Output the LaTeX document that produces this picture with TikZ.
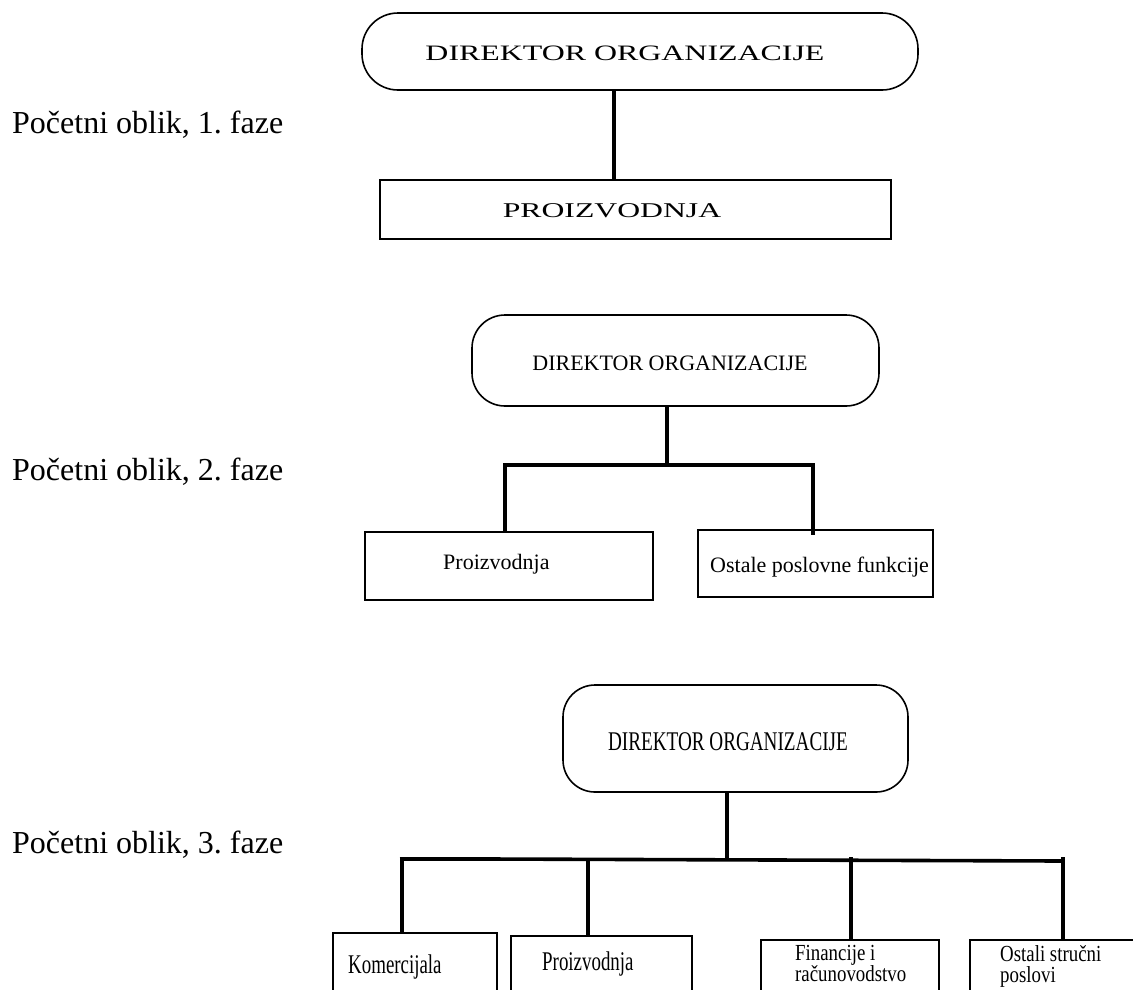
\documentclass[tikz,border=0pt]{standalone}
\usepackage{fontspec}
\setmainfont{Liberation Serif}
\usepackage{graphicx}
\frenchspacing
\begin{document}
\begin{tikzpicture}[x=1pt,y=-1pt,
  shapebox/.style={draw, line width=1.6pt, inner sep=0pt, outer sep=0pt, anchor=north west},
  pill/.style={shapebox, rounded corners=#1},
  conn/.style={draw, line width=3.6pt},
  lab/.style={inner sep=0pt, font=\fontsize{32}{38}\selectfont\frenchspacing, anchor=base west},
  txt/.style={inner sep=0pt, font=\fontsize{#1}{#1}\selectfont},
  txt/.default=22]
\useasboundingbox (0,0) rectangle (1133,989);
\clip (0,0) rectangle (1133,989);

% side labels
\node[lab] (l1) at (12,133) {Početni oblik, 1. faze};
\node[lab] (l2) at (12,480) {Početni oblik, 2. faze};
\node[lab] (l3) at (12,853) {Početni oblik, 3. faze};

% ---------- phase 1
\node[pill=36pt, minimum width=556pt, minimum height=77pt] (r1) at (362,13) {};
\node[txt, anchor=base] (r1t) at (625,60) {\scalebox{1.45}[1]{DIREKTOR ORGANIZACIJE}};
\node[shapebox, minimum width=511pt, minimum height=59pt] (p1) at (380,180) {};
\node[txt=21, anchor=base] (p1t) at (612,217) {\scalebox{1.51}[1]{PROIZVODNJA}};
\coordinate (j1) at (614,0);
\draw[conn] (r1.south -| j1) -- (p1.north -| j1);

% ---------- phase 2
\node[pill=33pt, minimum width=407pt, minimum height=91pt] (r2) at (472,315) {};
\node[txt, anchor=base] (r2t) at (670,370) {DIREKTOR ORGANIZACIJE};
\node[shapebox, minimum width=288pt, minimum height=68pt] (a2) at (365,532) {};
\node[txt, anchor=base west] (a2t) at (443,569) {Proizvodnja};
\node[shapebox, minimum width=235pt, minimum height=67pt] (b2) at (698,530) {};
\node[txt, anchor=base west] (b2t) at (710,572) {Ostale poslovne funkcije};
\coordinate (m2) at (667,465);
\coordinate (bl2) at (505,465);
\coordinate (br2) at (813,465);
\draw[conn] (r2.south -| m2) -- (m2);
\draw[conn] (bl2) -- (br2);
\draw[conn] ([yshift=1.8pt]bl2) -- (bl2 |- a2.north);
\draw[conn] ([yshift=2pt]br2) -- ([yshift=-5pt]br2 |- b2.north);

% ---------- phase 3
\node[pill=32pt, minimum width=345pt, minimum height=107pt] (r3) at (563,685) {};
\node[txt=27, anchor=base] (r3t) at (728,750) {\scalebox{0.71}[1]{DIREKTOR ORGANIZACIJE}};
\node[shapebox, minimum width=164pt, minimum height=80pt] (a3) at (333,933) {};
\node[shapebox, minimum width=181pt, minimum height=80pt] (b3) at (511,936) {};
\node[shapebox, minimum width=178pt, minimum height=80pt] (c3) at (761,940) {};
\node[shapebox, minimum width=180pt, minimum height=80pt] (d3) at (970,940) {};
\node[txt=27, anchor=base west] (a3t) at (348,973) {\scalebox{0.7}[1]{Komercijala}};
\node[txt=27, anchor=base west] (b3t) at (542,970) {\scalebox{0.7}[1]{Proizvodnja}};
\node[txt=23, anchor=base west] (c3t) at (795,960) {\scalebox{0.82}[1]{Financije i}};
\node[txt=23, anchor=base west] (c3u) at (795,981) {\scalebox{0.82}[1]{računovodstvo}};
\node[txt=23, anchor=base west] (d3t) at (1000,961) {\scalebox{0.82}[1]{Ostali stručni}};
\node[txt=23, anchor=base west] (d3u) at (1000,982) {\scalebox{0.82}[1]{poslovi}};
\coordinate (m3) at (727,861);
\coordinate (ba3) at (402,859);
\coordinate (bk3) at (490,859);
\coordinate (bb3) at (588,861);
\coordinate (bc3) at (851,861);
\coordinate (bd3) at (1063,861);
\draw[conn] (r3.south -| m3) -- (m3);
\draw[conn, line width=4.6pt] ([xshift=-2.3pt]ba3) -- (bk3);
\draw[conn] (bk3) -- (bd3);
\draw[conn] ([yshift=2pt]ba3) -- (ba3 |- a3.north);
\draw[conn] (bb3) -- (bb3 |- b3.north);
\draw[conn] ([yshift=4pt]bc3) -- (bc3 |- c3.north);
\draw[conn] ([yshift=4pt]bd3) -- (bd3 |- d3.north);
\end{tikzpicture}
\end{document}
